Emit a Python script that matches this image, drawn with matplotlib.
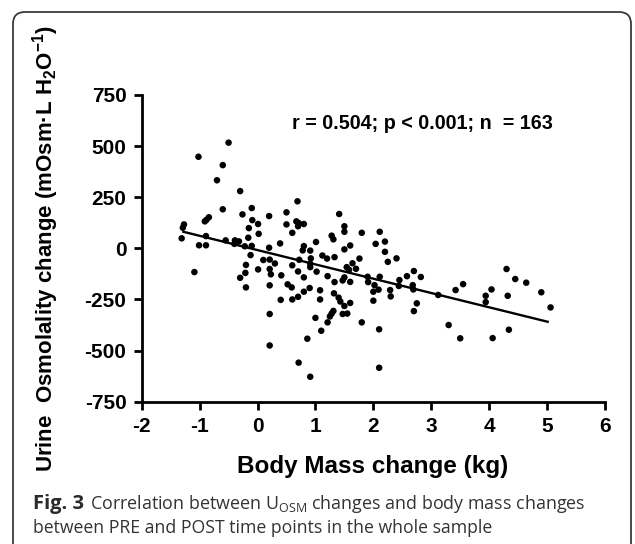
import matplotlib
matplotlib.use("Agg")
import matplotlib.pyplot as plt
from matplotlib.patches import FancyBboxPatch
from matplotlib.transforms import IdentityTransform

plt.rcParams['mathtext.fontset'] = 'custom'
plt.rcParams['mathtext.rm'] = 'Open Sans'
plt.rcParams['mathtext.bf'] = 'Liberation Sans:bold'

# ---- data ----
bm_change = [
    -1.31, -1.29, -1.27, -1.09, -1.02, -1.01, -0.89, -0.89, -0.91, -0.88, -0.84, -0.70,
    -0.60, -0.60, -0.55, -0.50, -0.40, -0.39, -0.32, -0.30, -0.30, -0.26, -0.22,
    -0.10, -0.09, -0.15, 0.01, 0.02, -0.16, -0.10, 0.20, 0.50, 0.50, 0.69, 0.67,
    0.71, 0.80, 0.70, 0.60, 0.39, 0.20, 0.80, 0.78, 0.91, 1.01, -0.12, 0.10,
    0.21, 0.30, 0.72, 0.92, 0.91, 0.91, -0.20, 0.60, 0.01, 0.21, 0.23, -0.21,
    0.70, 1.02, 0.41, 0.80, 0.52, 0.59, 0.90, 0.80, -0.20, 0.21, 0.40, 0.60,
    0.70, 1.08, 0.21, 0.21, 0.71, 0.86, 0.91, 1.00, 1.10, 1.21, 1.08,
    1.41, 1.50, 1.50, 1.80, 2.11, 1.28, 1.31, 2.20, 2.04, 2.20, 1.60, 1.50,
    2.40, 2.25, 1.76, 1.12, 1.20, 1.33, 1.54, 1.64, 1.70, 1.58, 1.90, 2.11,
    1.21, 1.33, 1.47, 1.50, 1.60, 1.91, 2.02, 2.00, 2.09, 2.00, 2.29, 2.30,
    1.32, 1.40, 1.43, 1.60, 1.50, 1.31, 1.28, 1.25, 1.47, 1.55, 1.80, 2.10,
    2.10, 2.45, 2.44, 2.58, 2.70, 2.82, 2.68, 2.69, 2.75, 2.70, 3.12, 3.42,
    3.55, 3.30, 3.50,
    3.94, 3.94, 4.04, 4.06, 4.30, 4.32, 4.34, 4.45, 4.64, 4.90, 5.06,
]
osm_change = [
    49, 101, 117, -116, 448, 15, 15, 60, 132, 140, 152, 333,
    407, 191, 39, 517, 22, 39, 34, 280, -144, 166, 10,
    197, 138, 99, 119, 71, 52, 12, 158, 176, 117, 230, 132,
    124, 119, 108, 76, 24, 3, 11, -10, -11, 31, -33, -57,
    -55, -74, -56, -49, -75, -92, -81, -83, -103, -101, -127, -120,
    -113, -114, -132, -142, -176, -191, -194, -212, -191, -181, -252, -250,
    -237, -205, -321, -475, -559, -442, -628, -340, -403, -362, -250,
    168, 108, 81, 76, 81, 62, 44, 33, 22, -17, 14, -5,
    -49, -66, -50, -35, -50, -43, -92, -73, -100, -105, -139, -139,
    -136, -165, -157, -142, -164, -165, -180, -212, -202, -256, -204, -235,
    -220, -241, -260, -267, -282, -306, -319, -333, -321, -319, -362, -396,
    -584, -155, -184, -136, -111, -140, -180, -201, -269, -307, -228, -204,
    -175, -375, -440,
    -232, -263, -201, -439, -101, -232, -398, -150, -168, -215, -289,
]
fit_x = [-1.28, 5.01]
fit_y = [81, -359]

x_ticks = [-2, -1, 0, 1, 2, 3, 4, 5, 6]
y_ticks = [-750, -500, -250, 0, 250, 500, 750]
stats_label = "r = 0.504; p < 0.001; n  = 163"
x_title = "Body Mass change (kg)"
y_title = r"Urine  Osmolality change (mOsm·L H$_\mathbf{2}$O$^\mathbf{-1}$)"
cap_bold = "Fig. 3"
cap_line1 = r"Correlation between U$_\mathrm{OSM}$ changes and body mass changes"
cap_line2 = "between PRE and POST time points in the whole sample"

W, H = 635, 544
fig = plt.figure(figsize=(W / 100, H / 100), dpi=100)
fig.patch.set_facecolor('white')

# rounded frame
frame = FancyBboxPatch((13, -40), 618, H - 12 + 40,
                       boxstyle="round,pad=0,rounding_size=12",
                       transform=IdentityTransform(), fill=False,
                       edgecolor='#3a3a3a', linewidth=1.3)
fig.patches.append(frame)

L, R, T, B = 141.7, 605, 95, 401.7
ax = fig.add_axes([L / W, 1 - B / H, (R - L) / W, (B - T) / H])
ax.scatter(bm_change, osm_change, s=22, color='black', edgecolors='none', zorder=3)
ax.plot(fit_x, fit_y, color='black', lw=1.7, zorder=2)

ax.set_xlim(-2, 6)
ax.set_ylim(-750, 750)
ax.set_xticks(x_ticks)
ax.set_yticks(y_ticks)
ax.set_xticklabels([str(v) for v in x_ticks])
ax.set_yticklabels([str(v) for v in y_ticks])
for s in ['top', 'right']:
    ax.spines[s].set_visible(False)
for s in ['left', 'bottom']:
    ax.spines[s].set_linewidth(2)
ax.tick_params(direction='out', length=6, width=2, pad=5)
for lab in ax.get_xticklabels() + ax.get_yticklabels():
    lab.set_fontfamily('Liberation Sans')
    lab.set_fontweight('bold')
    lab.set_fontsize(15)

ax.text(0.6, 612, stats_label, fontsize=14.2, fontweight='bold',
        family='Liberation Sans', va='center', ha='left')

fig.text(373 / W, 1 - 467 / H, x_title, fontsize=17.5, fontweight='bold',
         family='Liberation Sans', ha='center', va='center')
fig.text(46 / W, 1 - 249 / H, y_title, fontsize=16, fontweight='bold',
         family='Liberation Sans', ha='center', va='center', rotation=90)

# caption
cap_color = '#333333'
t0 = fig.text(33 / W, 1 - 509 / H, cap_bold, fontsize=14.5, fontweight='bold',
              family='Open Sans', color='#2a2a2a', ha='left', va='baseline')
fig.canvas.draw()
bb = t0.get_window_extent(fig.canvas.get_renderer())
fig.text((bb.x1 + 6) / W, 1 - 509 / H, cap_line1, fontsize=12.9,
         family='Open Sans', color=cap_color, ha='left', va='baseline')
fig.text(33 / W, 1 - 533 / H, cap_line2, fontsize=12.7,
         family='Open Sans', color=cap_color, ha='left', va='baseline')

fig.savefig('out.png', dpi=100, facecolor='white')
